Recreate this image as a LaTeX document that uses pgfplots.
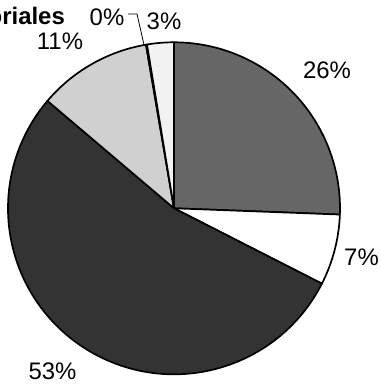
\documentclass[border=0pt]{standalone}
\usepackage{pgfplots}
\pgfplotsset{compat=1.18}
\usepackage{fontspec}
\setmainfont{Liberation Sans}
\definecolor{sA}{HTML}{666666}
\definecolor{sB}{HTML}{FFFFFF}
\definecolor{sC}{HTML}{333333}
\definecolor{sD}{HTML}{D0D0D0}
\definecolor{sE}{HTML}{999999}
\definecolor{sF}{HTML}{F2F2F2}
% slice values in percent (clockwise from 12 o'clock)
\def\vA{25.6}\def\vB{6.9}\def\vC{53.7}\def\vD{11.1}\def\vE{0.1}\def\vF{2.6}
\pgfmathsetmacro{\aA}{90}
\pgfmathsetmacro{\aB}{\aA-3.6*\vA}
\pgfmathsetmacro{\aC}{\aB-3.6*\vB}
\pgfmathsetmacro{\aD}{\aC-3.6*\vC}
\pgfmathsetmacro{\aE}{\aD-3.6*\vD}
\pgfmathsetmacro{\aF}{\aE-3.6*\vE}
\pgfmathsetmacro{\aG}{\aF-3.6*\vF}
\newcommand{\slice}[3]{%
  \path[draw=black, line width=1.7bp, fill=#3, line join=round]
    (axis cs:0,0) -- (axis cs:{cos(#1)},{sin(#1)})
    arc[start angle=#1, end angle=#2, radius=166bp] -- cycle;}
\newcommand{\lbl}{\fontsize{24}{28}\selectfont}
\begin{document}
\begin{tikzpicture}
\begin{axis}[x=166bp, y=166bp, xmin=-1, xmax=1, ymin=-1, ymax=1,
  hide axis, clip=false]
\addplot[draw=none] coordinates {(0,0)};
\slice{\aA}{\aB}{sA}
\slice{\aB}{\aC}{sB}
\slice{\aC}{\aD}{sC}
\slice{\aD}{\aE}{sD}
\slice{\aE}{\aF}{sE}
\slice{\aF}{\aG}{sF}
\node[font=\lbl] at (axis cs:0.9217,0.8331) {26\%};
\node[font=\lbl] at (axis cs:1.1295,-0.2934) {7\%};
\node[font=\lbl] at (axis cs:-0.7319,-0.9801) {53\%};
\node[font=\lbl] at (axis cs:-0.6867,1.0078) {11\%};
\node[font=\lbl] at (axis cs:-0.4036,1.1494) {0\%};
\node[font=\lbl] at (axis cs:-0.0602,1.1283) {3\%};
\draw[line width=0.8bp] (axis cs:-0.2771,1.1705) -- (axis cs:-0.2229,1.1705) -- (axis cs:-0.1805,0.9836);
\node[font=\lbl\bfseries, anchor=base east, inner sep=0pt] at (axis cs:-0.6566,1.1042) {Sectoriales};
\coordinate (bl) at (axis cs:-1.0482,-1.0645);
\coordinate (tr) at (axis cs:1.2410,1.2548);
\end{axis}
\pgfresetboundingbox
\path[use as bounding box] (bl) rectangle (tr);
\end{tikzpicture}
\end{document}
